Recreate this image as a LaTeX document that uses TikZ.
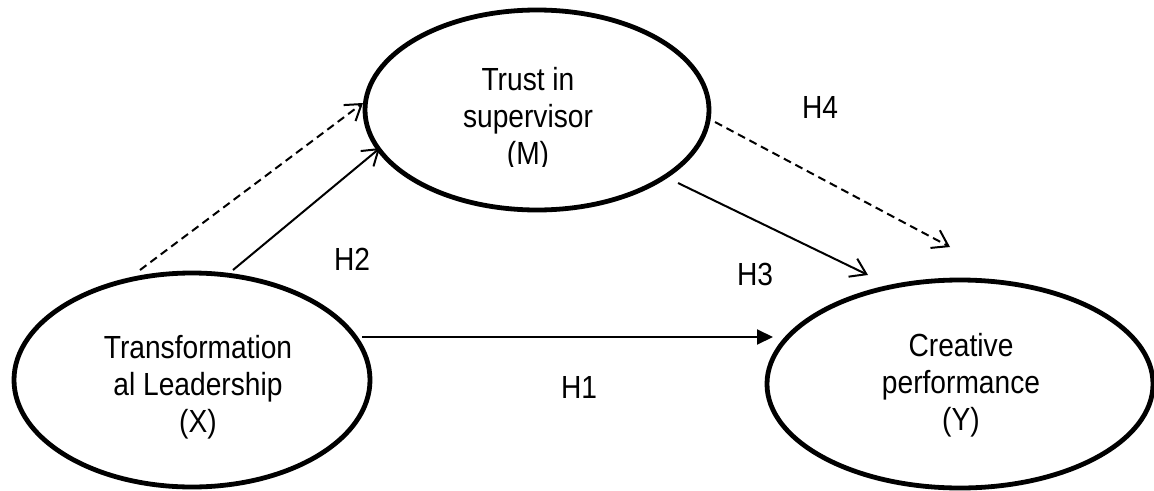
\documentclass[tikz,border=0pt]{standalone}
\usepackage{fontspec}
\setmainfont{Liberation Sans}[FakeStretch=0.88]
\usetikzlibrary{arrows.meta,shapes.geometric}
\begin{document}
\begin{tikzpicture}[x=1pt,y=-1pt,
  latent/.style={draw, ellipse, line width=4.8pt, inner sep=0pt},
  lbl/.style={font=\fontsize{32}{37}\selectfont, align=center, anchor=base, inner sep=0pt},
  hyp/.style={font=\fontsize{32}{37}\selectfont, anchor=base, inner sep=0pt},
  link/.style={line width=2pt, -{Straight Barb[length=15pt,width=20pt,line width=2pt]}},
  indirect/.style={link, dash pattern=on 8pt off 5pt},
  direct/.style={line width=2pt, -{Triangle[length=16pt,width=15pt]}}
]
\useasboundingbox (0,0) rectangle (1154,490);

% latent variables
\node[latent, minimum width=356pt, minimum height=214pt] (X) at (192,380) {};
\node[latent, minimum width=344pt, minimum height=200pt] (M) at (537,110) {};
\node[latent, minimum width=386pt, minimum height=208pt] (Y) at (960,384) {};

% texts
\node[lbl] (Xt) at (198,432) {Transformation\\al Leadership\\(X)};
\node[lbl] (Yt) at (961,430) {Creative\\performance\\(Y)};
\begin{scope}
  \clip (300,0) rectangle (800,166);
  \node[lbl] (Mt) at (528,164) {Trust in\\supervisor\\(M)};
\end{scope}

% connector ends
\coordinate (a1) at (140,270); \coordinate (a2) at (363,103);
\coordinate (b1) at (233,270); \coordinate (b2) at (380,148);
\coordinate (c1) at (362,337); \coordinate (c2) at (773,337);
\coordinate (d1) at (678,183); \coordinate (d2) at (868,275);
\coordinate (e1) at (715,122); \coordinate (e2) at (950,247);

\draw[indirect] (a1) -- (a2);
\draw[link] (b1) -- (b2);
\draw[direct] (c1) -- (c2);
\draw[link] (d1) -- (d2);
\draw[indirect] (e1) -- (e2);

% hypothesis labels
\node[hyp] (H2) at (352,270) {H2};
\node[hyp] (H4) at (820,118) {H4};
\node[hyp] (H3) at (755,285) {H3};
\node[hyp] (H1) at (579,398) {H1};
\end{tikzpicture}
\end{document}
